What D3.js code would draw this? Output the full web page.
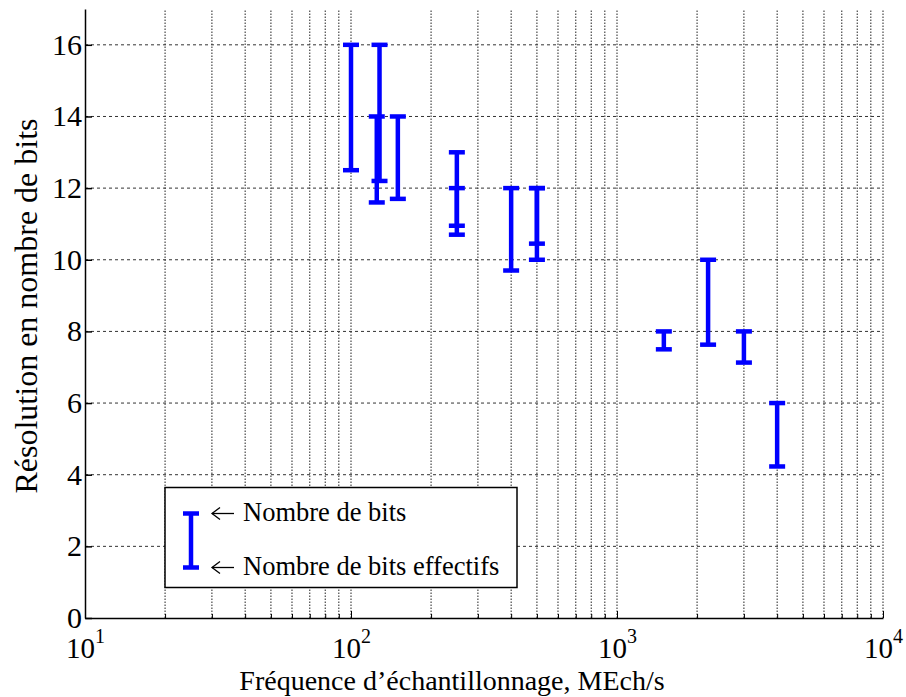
<!DOCTYPE html>
<html><head><meta charset="utf-8">
<script src="https://cdn.jsdelivr.net/npm/d3@7"></script>
<style>body{margin:0;background:#fff}svg{display:block}</style>
</head><body>
<script>
// Data
const freq    = [100, 128, 125, 150, 250, 250, 400, 500, 500, 1500, 2200, 3000, 4000];
const bitsTop = [16, 16, 14, 14, 13, 12, 12, 12, 12, 8, 10, 8, 6];
const bitsEff = [12.5, 12.2, 11.6, 11.7, 10.95, 10.7, 9.7, 10.45, 10.0, 7.5, 7.63, 7.13, 4.23];
const yTicks = [0, 2, 4, 6, 8, 10, 12, 14, 16];
const xMajor = [10, 100, 1000, 10000];
const xExp = ["1", "2", "3", "4"];
const legendLabels = ["Nombre de bits", "Nombre de bits effectifs"];
const xTitle = "Fréquence d\u2019échantillonnage, MEch/s";
const yTitle = "Résolution en nombre de bits";

const W = 906, H = 697;
const m = {left: 85, right: 23, top: 9, bottom: 79};
const FONT = "'Liberation Serif', 'Times New Roman', Times, serif";
const svg = d3.select("body").append("svg").attr("width", W).attr("height", H)
  .attr("font-family", FONT);
const x = d3.scaleLog().domain([10, 10000]).range([m.left, W - m.right]);
const y = d3.scaleLinear().domain([0, 17]).range([H - m.bottom, m.top]);

function stext(px, py, str, size, anchor, rot) {
  const g = svg.append("g").attr("transform", `translate(${px},${py})` + (rot ? ` rotate(${rot})` : ""));
  return g.append("text").attr("font-family", FONT).attr("fill", "#000").attr("font-size", size).attr("text-anchor", anchor || "start").text(str);
}

// minor positions
const minor = [];
for (let d = 10; d < 10000; d *= 10) for (let k = 1; k < 10; k++) minor.push(d * k);
minor.push(10000);

// vertical grid
svg.append("g").selectAll("line").data(minor.filter(v => v > 10)).join("line")
  .attr("x1", d => x(d)).attr("x2", d => x(d)).attr("y1", y(0)).attr("y2", y(17))
  .attr("stroke", "#222").attr("stroke-width", 1).attr("stroke-dasharray", "1.5,1.5");
// horizontal grid
svg.append("g").selectAll("line").data(yTicks.filter(v => v > 0)).join("line")
  .attr("x1", x(10)).attr("x2", x(10000)).attr("y1", d => y(d)).attr("y2", d => y(d))
  .attr("stroke", "#333").attr("stroke-width", 1).attr("stroke-dasharray", "3,3");

// axes
const yAxis = d3.axisLeft(y).tickValues(yTicks).tickSizeInner(-7).tickSizeOuter(0).tickFormat("");
const ga = svg.append("g").attr("transform", `translate(${m.left},0)`).call(yAxis);
ga.select(".domain").attr("stroke", "#000").attr("stroke-width", 1.5);
ga.selectAll(".tick line").attr("stroke", "#000").attr("stroke-width", 1.5);
const xAxis = d3.axisBottom(x).tickValues(minor).tickSizeInner(-4).tickSizeOuter(0).tickFormat("");
const gx = svg.append("g").attr("transform", `translate(0,${y(0)})`).call(xAxis);
gx.select(".domain").attr("stroke", "#000").attr("stroke-width", 1.5);
gx.selectAll(".tick line").attr("stroke", "#000").attr("stroke-width", 1)
  .attr("y2", d => xMajor.includes(d) ? -7 : -4);

// y tick labels
yTicks.forEach(v => {
  stext(x(10) - 3, y(v) + 10, String(v), 30, "end");
});
// x tick labels
xMajor.forEach((v, i) => {
  const t = stext(x(v) - 19, y(0) + 40, "10", 29, "start");
  t.append("tspan").attr("font-size", 20).attr("dx", 0).attr("dy", -15).text(xExp[i]);
});

// titles
stext(452, 690, xTitle, 28, "middle");
stext(37, 306, yTitle, 32, "middle", -90);

// error bars
const blue = "#0000ff", sw = 4.5, cw = 8;
const bars = svg.append("g");
freq.forEach((f, i) => {
  const cx = x(f);
  bars.append("line").attr("x1", cx).attr("x2", cx).attr("y1", y(bitsTop[i])).attr("y2", y(bitsEff[i]))
    .attr("stroke", blue).attr("stroke-width", sw);
  [bitsTop[i], bitsEff[i]].forEach(v => {
    bars.append("line").attr("x1", cx - cw).attr("x2", cx + cw).attr("y1", y(v)).attr("y2", y(v))
      .attr("stroke", blue).attr("stroke-width", sw);
  });
});

// legend
const lg = svg.append("g");
lg.append("rect").attr("x", 165).attr("y", 487.5).attr("width", 352).attr("height", 100)
  .attr("fill", "#fff").attr("stroke", "#000").attr("stroke-width", 1.5);
const lx = 191, lt = 513.5, lb = 567.5;
lg.append("line").attr("x1", lx).attr("x2", lx).attr("y1", lt).attr("y2", lb).attr("stroke", blue).attr("stroke-width", sw);
[lt, lb].forEach(v => lg.append("line").attr("x1", lx - cw).attr("x2", lx + cw).attr("y1", v).attr("y2", v).attr("stroke", blue).attr("stroke-width", sw));
[[lt, legendLabels[0]], [lb, legendLabels[1]]].forEach(([yy, lab]) => {
  const ay = yy;
  lg.append("line").attr("x1", 212).attr("x2", 234).attr("y1", ay).attr("y2", ay).attr("stroke", "#000").attr("stroke-width", 1.3);
  lg.append("path").attr("d", `M220,${ay - 6} L212,${ay} L220,${ay + 6}`).attr("fill", "none").attr("stroke", "#000").attr("stroke-width", 1.3);
  stext(243, yy + 7, lab, 26.5, "start");
});
</script>
</body></html>
